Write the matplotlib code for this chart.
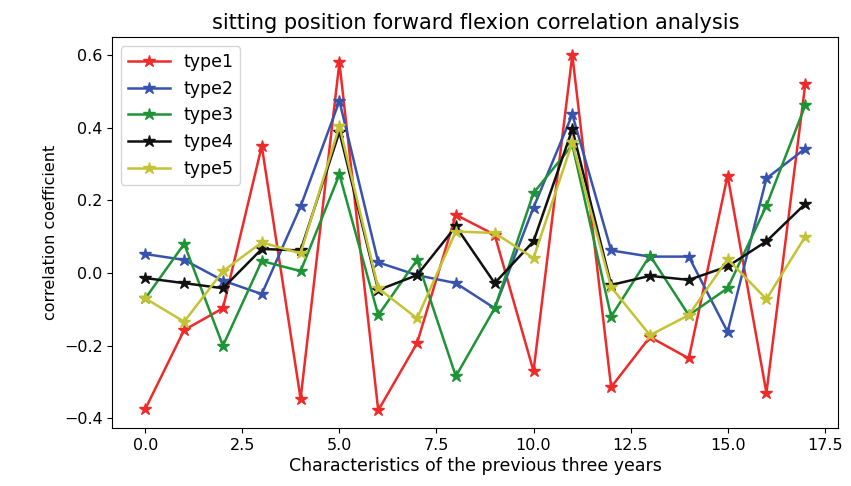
import numpy as np
import matplotlib
matplotlib.use("Agg")
import matplotlib.pyplot as plt

# feature index (18 features)
features = list(range(18))

type1 = [-0.374, -0.157, -0.097, 0.349, -0.346, 0.579, -0.378, -0.193, 0.16, 0.105,
         -0.27, 0.599, -0.314, -0.176, -0.235, 0.268, -0.33, 0.519]
type2 = [0.052, 0.036, -0.021, -0.058, 0.183, 0.473, 0.029, -0.006, -0.028, -0.097,
         0.18, 0.436, 0.062, 0.045, 0.045, -0.162, 0.26, 0.342]
type3 = [-0.07, 0.08, -0.2, 0.033, 0.005, 0.271, -0.116, 0.036, -0.284, -0.097,
         0.22, 0.352, -0.12, 0.048, -0.116, -0.042, 0.185, 0.461]
type4 = [-0.014, -0.028, -0.042, 0.066, 0.062, 0.388, -0.047, -0.006, 0.128, -0.028,
         0.087, 0.395, -0.033, -0.008, -0.019, 0.018, 0.087, 0.19]
type5 = [-0.07, -0.134, 0.005, 0.084, 0.054, 0.404, -0.042, -0.125, 0.114, 0.11,
         0.041, 0.359, -0.039, -0.171, -0.116, 0.038, -0.072, 0.1]

names = ["type1", "type2", "type3", "type4", "type5"]
colors = ["#ee2a2a", "#3853ad", "#1f9436", "#111111", "#c4c235"]

fig = plt.figure(figsize=(8.51, 4.86), dpi=100)
ax = fig.add_axes([0.132, 0.119, 0.853, 0.804])

for ys, name, c in zip([type1, type2, type3, type4, type5], names, colors):
    ax.plot(features, ys, marker="*", color=c, label=name, linewidth=1.8, markersize=9)

ax.set_title("sitting position forward flexion correlation analysis", fontsize=15)
ax.set_xlabel("Characteristics of the previous three years", fontsize=12.5, labelpad=3)
ax.set_ylabel("correlation coefficient", fontsize=11.5)
ax.tick_params(labelsize=11.5)
ax.legend(loc="upper left", fontsize=12.5, handlelength=2.4)

fig.savefig("out.png", dpi=100)
